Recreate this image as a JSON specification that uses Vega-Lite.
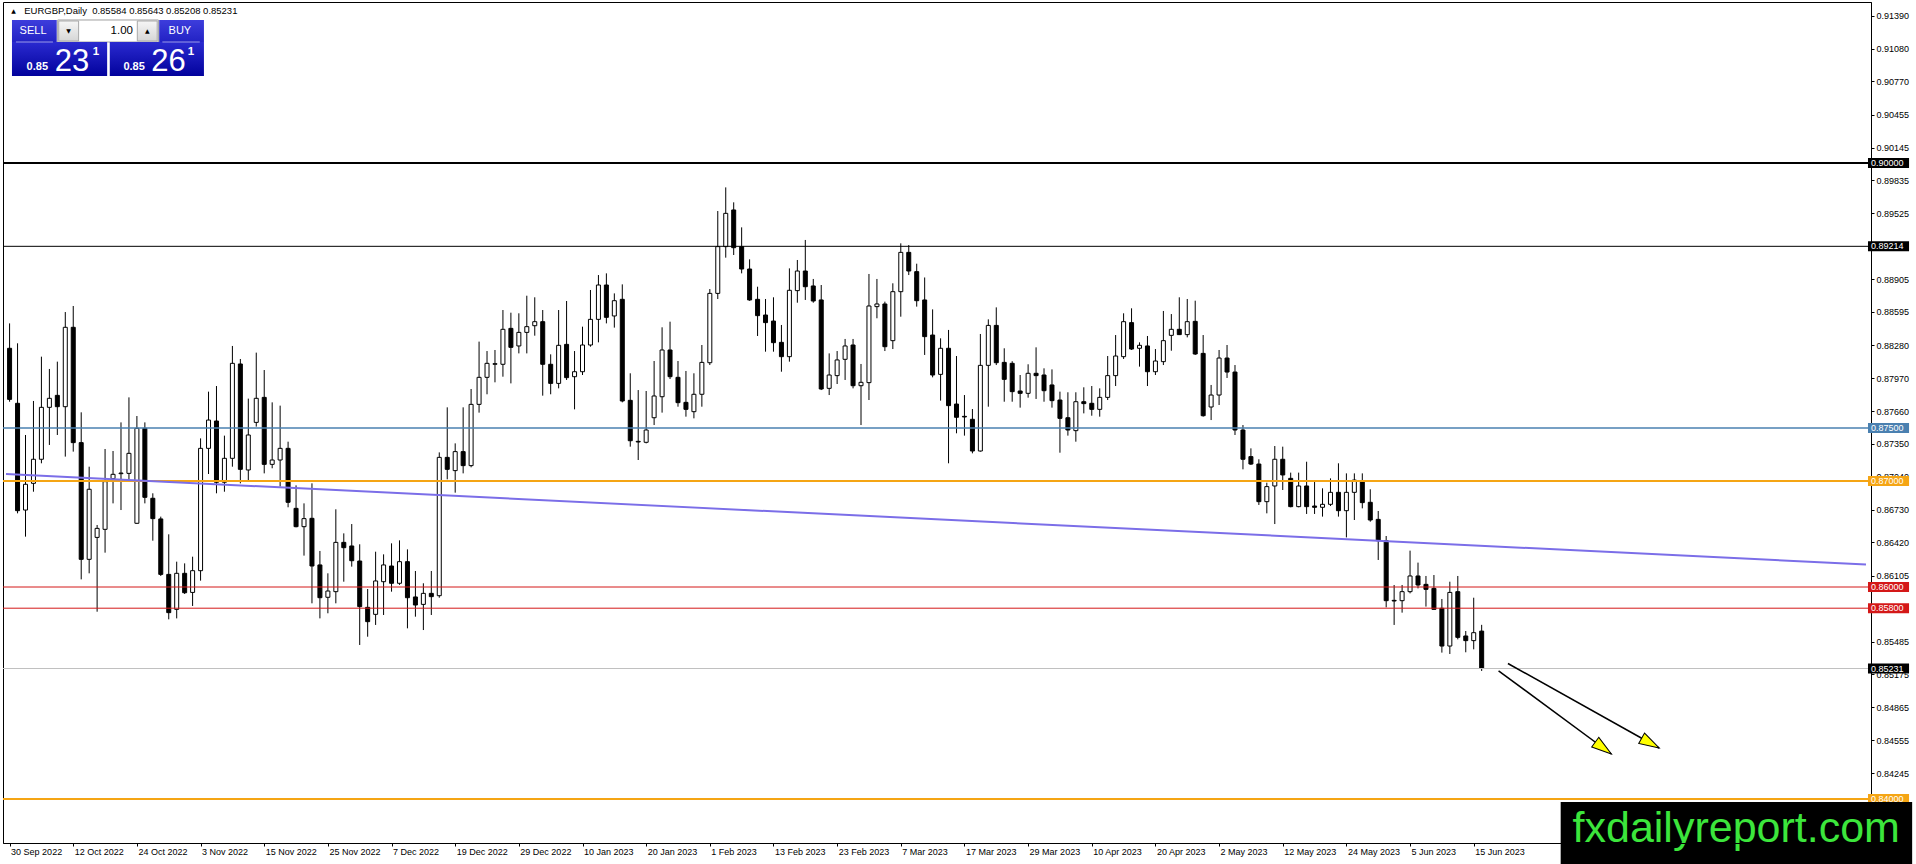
{
"$schema":"https://vega.github.io/schema/vega-lite/v6.json",
"width":1868,"height":841,
"padding":{"left":2,"top":2,"right":0,"bottom":0},
"autosize":{"type":"pad"},
"background":"white",
"config":{"view":{"stroke":"black","strokeWidth":1},"axis":{"grid":false}},
"resolve":{"axis":{"x":"independent","y":"independent"}},
"datasets":{
"candles":[
{"i":0,"o":0.88252,"h":0.88487,"l":0.87748,"c":0.8777},
{"i":1,"o":0.87733,"h":0.88299,"l":0.86695,"c":0.8672},
{"i":2,"o":0.86726,"h":0.87434,"l":0.86475,"c":0.86969},
{"i":3,"o":0.86978,"h":0.87755,"l":0.86899,"c":0.87205},
{"i":4,"o":0.87205,"h":0.88173,"l":0.87167,"c":0.87695},
{"i":5,"o":0.87695,"h":0.88057,"l":0.8734,"c":0.8778},
{"i":6,"o":0.87808,"h":0.88126,"l":0.87434,"c":0.87701},
{"i":7,"o":0.87701,"h":0.88594,"l":0.8723,"c":0.8845},
{"i":8,"o":0.8845,"h":0.88651,"l":0.87277,"c":0.87362},
{"i":9,"o":0.87362,"h":0.87648,"l":0.86072,"c":0.86261},
{"i":10,"o":0.86261,"h":0.87135,"l":0.86129,"c":0.86922},
{"i":11,"o":0.86468,"h":0.86585,"l":0.85767,"c":0.86553},
{"i":12,"o":0.86544,"h":0.87302,"l":0.86324,"c":0.86994},
{"i":13,"o":0.87022,"h":0.87283,"l":0.86789,"c":0.87063},
{"i":14,"o":0.87069,"h":0.87553,"l":0.86726,"c":0.87075},
{"i":15,"o":0.87072,"h":0.87789,"l":0.87009,"c":0.87261},
{"i":16,"o":0.86601,"h":0.87613,"l":0.86595,"c":0.87497},
{"i":17,"o":0.87497,"h":0.87553,"l":0.86789,"c":0.86846},
{"i":18,"o":0.86837,"h":0.86884,"l":0.86437,"c":0.86645},
{"i":19,"o":0.86642,"h":0.86664,"l":0.86104,"c":0.86119},
{"i":20,"o":0.86119,"h":0.86497,"l":0.85695,"c":0.85758},
{"i":21,"o":0.85789,"h":0.86239,"l":0.85704,"c":0.86129},
{"i":22,"o":0.86129,"h":0.86223,"l":0.85934,"c":0.85946},
{"i":23,"o":0.85949,"h":0.86286,"l":0.85821,"c":0.86154},
{"i":24,"o":0.86154,"h":0.87402,"l":0.8606,"c":0.87308},
{"i":25,"o":0.87308,"h":0.87843,"l":0.87066,"c":0.87575},
{"i":26,"o":0.87566,"h":0.87896,"l":0.86884,"c":0.86988},
{"i":27,"o":0.86988,"h":0.87428,"l":0.86899,"c":0.87214},
{"i":28,"o":0.87214,"h":0.88274,"l":0.87135,"c":0.8811},
{"i":29,"o":0.88104,"h":0.88151,"l":0.86978,"c":0.8711},
{"i":30,"o":0.87104,"h":0.87777,"l":0.87009,"c":0.87434},
{"i":31,"o":0.87553,"h":0.88211,"l":0.87513,"c":0.8778},
{"i":32,"o":0.87789,"h":0.88047,"l":0.87072,"c":0.87157},
{"i":33,"o":0.87157,"h":0.87742,"l":0.8712,"c":0.87198},
{"i":34,"o":0.87198,"h":0.87711,"l":0.86947,"c":0.87308},
{"i":35,"o":0.87308,"h":0.87371,"l":0.86752,"c":0.86799},
{"i":36,"o":0.86742,"h":0.86959,"l":0.86563,"c":0.86569},
{"i":37,"o":0.86569,"h":0.86789,"l":0.86296,"c":0.86645},
{"i":38,"o":0.86648,"h":0.86978,"l":0.85846,"c":0.86198},
{"i":39,"o":0.86208,"h":0.8634,"l":0.85704,"c":0.85899},
{"i":40,"o":0.85903,"h":0.86129,"l":0.85752,"c":0.85962},
{"i":41,"o":0.85956,"h":0.86733,"l":0.85846,"c":0.86421},
{"i":42,"o":0.86421,"h":0.86506,"l":0.8605,"c":0.86371},
{"i":43,"o":0.86387,"h":0.86594,"l":0.86192,"c":0.86248},
{"i":44,"o":0.86245,"h":0.86403,"l":0.85453,"c":0.85815},
{"i":45,"o":0.85808,"h":0.85981,"l":0.85531,"c":0.85673},
{"i":46,"o":0.85742,"h":0.86333,"l":0.85642,"c":0.86057},
{"i":47,"o":0.8605,"h":0.86308,"l":0.85736,"c":0.86208},
{"i":48,"o":0.86198,"h":0.86412,"l":0.85956,"c":0.86035},
{"i":49,"o":0.86035,"h":0.8644,"l":0.8602,"c":0.86239},
{"i":50,"o":0.86239,"h":0.86355,"l":0.8561,"c":0.85899},
{"i":51,"o":0.85906,"h":0.86151,"l":0.8572,"c":0.8583},
{"i":52,"o":0.85836,"h":0.86035,"l":0.85594,"c":0.8594},
{"i":53,"o":0.8594,"h":0.86151,"l":0.85736,"c":0.85909},
{"i":54,"o":0.85918,"h":0.8727,"l":0.85899,"c":0.87223},
{"i":55,"o":0.87223,"h":0.87695,"l":0.87016,"c":0.8711},
{"i":56,"o":0.87098,"h":0.87355,"l":0.8689,"c":0.87277},
{"i":57,"o":0.87277,"h":0.87695,"l":0.87072,"c":0.87145},
{"i":58,"o":0.87145,"h":0.87868,"l":0.87129,"c":0.87723},
{"i":59,"o":0.87723,"h":0.88315,"l":0.87645,"c":0.87978},
{"i":60,"o":0.87978,"h":0.88226,"l":0.87818,"c":0.8811},
{"i":61,"o":0.88101,"h":0.88236,"l":0.87931,"c":0.88107},
{"i":62,"o":0.88101,"h":0.88613,"l":0.87984,"c":0.88431},
{"i":63,"o":0.8844,"h":0.88588,"l":0.87921,"c":0.88261},
{"i":64,"o":0.88274,"h":0.88582,"l":0.88204,"c":0.88402},
{"i":65,"o":0.88402,"h":0.88748,"l":0.88204,"c":0.88456},
{"i":66,"o":0.88465,"h":0.88733,"l":0.88371,"c":0.88503},
{"i":67,"o":0.88503,"h":0.88613,"l":0.87805,"c":0.88101},
{"i":68,"o":0.88101,"h":0.88195,"l":0.87818,"c":0.87921},
{"i":69,"o":0.87921,"h":0.88613,"l":0.87874,"c":0.8828},
{"i":70,"o":0.88289,"h":0.88698,"l":0.87953,"c":0.87975},
{"i":71,"o":0.87984,"h":0.88226,"l":0.87676,"c":0.88031},
{"i":72,"o":0.88031,"h":0.88456,"l":0.88,"c":0.88283},
{"i":73,"o":0.88283,"h":0.88802,"l":0.88267,"c":0.88525},
{"i":74,"o":0.88525,"h":0.88943,"l":0.88308,"c":0.88849},
{"i":75,"o":0.88849,"h":0.88959,"l":0.88487,"c":0.88544},
{"i":76,"o":0.88557,"h":0.8877,"l":0.88447,"c":0.88701},
{"i":77,"o":0.88714,"h":0.88855,"l":0.87742,"c":0.87755},
{"i":78,"o":0.87761,"h":0.88016,"l":0.87324,"c":0.8738},
{"i":79,"o":0.87374,"h":0.87858,"l":0.87198,"c":0.87368},
{"i":80,"o":0.87365,"h":0.87849,"l":0.87355,"c":0.87481},
{"i":81,"o":0.87597,"h":0.88132,"l":0.87528,"c":0.87802},
{"i":82,"o":0.87795,"h":0.8845,"l":0.87645,"c":0.88236},
{"i":83,"o":0.88236,"h":0.88503,"l":0.87962,"c":0.87984},
{"i":84,"o":0.87978,"h":0.88132,"l":0.87701,"c":0.87739},
{"i":85,"o":0.87742,"h":0.88038,"l":0.87607,"c":0.87676},
{"i":86,"o":0.87654,"h":0.88016,"l":0.87591,"c":0.87818},
{"i":87,"o":0.87818,"h":0.88283,"l":0.87701,"c":0.88119},
{"i":88,"o":0.88116,"h":0.88811,"l":0.88094,"c":0.8877},
{"i":89,"o":0.8877,"h":0.89547,"l":0.88717,"c":0.89211},
{"i":90,"o":0.89211,"h":0.8977,"l":0.89107,"c":0.89525},
{"i":91,"o":0.89557,"h":0.89629,"l":0.89132,"c":0.89201},
{"i":92,"o":0.89211,"h":0.89393,"l":0.88959,"c":0.89},
{"i":93,"o":0.89,"h":0.89091,"l":0.887,"c":0.88708},
{"i":94,"o":0.88714,"h":0.88833,"l":0.88368,"c":0.8856},
{"i":95,"o":0.88566,"h":0.88717,"l":0.8822,"c":0.88494},
{"i":96,"o":0.88509,"h":0.88733,"l":0.8822,"c":0.88305},
{"i":97,"o":0.88308,"h":0.88472,"l":0.88031,"c":0.88173},
{"i":98,"o":0.88173,"h":0.89006,"l":0.88126,"c":0.88799},
{"i":99,"o":0.88796,"h":0.89085,"l":0.88682,"c":0.88981},
{"i":100,"o":0.88981,"h":0.89274,"l":0.88708,"c":0.88833},
{"i":101,"o":0.8884,"h":0.88906,"l":0.88682,"c":0.88698},
{"i":102,"o":0.88708,"h":0.88849,"l":0.87858,"c":0.87868},
{"i":103,"o":0.87874,"h":0.88204,"l":0.87811,"c":0.88},
{"i":104,"o":0.87994,"h":0.88226,"l":0.87915,"c":0.88142},
{"i":105,"o":0.88148,"h":0.8834,"l":0.87953,"c":0.88274},
{"i":106,"o":0.88283,"h":0.8834,"l":0.87874,"c":0.87899},
{"i":107,"o":0.87899,"h":0.88104,"l":0.87528,"c":0.87931},
{"i":108,"o":0.87928,"h":0.88953,"l":0.87764,"c":0.88651},
{"i":109,"o":0.88645,"h":0.88906,"l":0.88535,"c":0.8867},
{"i":110,"o":0.8867,"h":0.88692,"l":0.88226,"c":0.88267},
{"i":111,"o":0.88324,"h":0.88865,"l":0.88245,"c":0.88786},
{"i":112,"o":0.88786,"h":0.89242,"l":0.8855,"c":0.89157},
{"i":113,"o":0.89157,"h":0.89226,"l":0.88943,"c":0.88981},
{"i":114,"o":0.88975,"h":0.8905,"l":0.88645,"c":0.88701},
{"i":115,"o":0.88708,"h":0.8892,"l":0.88189,"c":0.88362},
{"i":116,"o":0.88377,"h":0.88619,"l":0.87978,"c":0.88},
{"i":117,"o":0.88006,"h":0.88346,"l":0.87758,"c":0.88252},
{"i":118,"o":0.88252,"h":0.88425,"l":0.87167,"c":0.87711},
{"i":119,"o":0.87726,"h":0.88179,"l":0.8745,"c":0.87601},
{"i":120,"o":0.8761,"h":0.87811,"l":0.87428,"c":0.87604},
{"i":121,"o":0.87582,"h":0.87679,"l":0.87261,"c":0.87283},
{"i":122,"o":0.87283,"h":0.88387,"l":0.87277,"c":0.88091},
{"i":123,"o":0.88091,"h":0.88525,"l":0.87701,"c":0.88468},
{"i":124,"o":0.88468,"h":0.88638,"l":0.88094,"c":0.88116},
{"i":125,"o":0.88119,"h":0.88252,"l":0.87748,"c":0.87959},
{"i":126,"o":0.8811,"h":0.8813,"l":0.87748,"c":0.87843},
{"i":127,"o":0.87849,"h":0.88,"l":0.87692,"c":0.87827},
{"i":128,"o":0.87827,"h":0.88101,"l":0.87786,"c":0.88016},
{"i":129,"o":0.88016,"h":0.88261,"l":0.87774,"c":0.87994},
{"i":130,"o":0.88,"h":0.88063,"l":0.87748,"c":0.87852},
{"i":131,"o":0.87906,"h":0.88053,"l":0.87692,"c":0.87758},
{"i":132,"o":0.87764,"h":0.87843,"l":0.87267,"c":0.87591},
{"i":133,"o":0.87597,"h":0.87837,"l":0.87428,"c":0.87481},
{"i":134,"o":0.87475,"h":0.87837,"l":0.87371,"c":0.87748},
{"i":135,"o":0.87748,"h":0.87884,"l":0.87638,"c":0.8773},
{"i":136,"o":0.87733,"h":0.87896,"l":0.87616,"c":0.87676},
{"i":137,"o":0.87676,"h":0.87874,"l":0.87607,"c":0.87789},
{"i":138,"o":0.87789,"h":0.88179,"l":0.87764,"c":0.87994},
{"i":139,"o":0.87994,"h":0.88377,"l":0.87896,"c":0.88179},
{"i":140,"o":0.88173,"h":0.88582,"l":0.88151,"c":0.88503},
{"i":141,"o":0.88494,"h":0.88629,"l":0.88236,"c":0.88245},
{"i":142,"o":0.88252,"h":0.88308,"l":0.88079,"c":0.8828},
{"i":143,"o":0.88274,"h":0.88368,"l":0.87896,"c":0.88031},
{"i":144,"o":0.88031,"h":0.88245,"l":0.88,"c":0.88132},
{"i":145,"o":0.88126,"h":0.88604,"l":0.88094,"c":0.88324},
{"i":146,"o":0.88374,"h":0.88575,"l":0.88229,"c":0.88431},
{"i":147,"o":0.88431,"h":0.88733,"l":0.88377,"c":0.88381},
{"i":148,"o":0.88381,"h":0.88717,"l":0.88355,"c":0.88503},
{"i":149,"o":0.88506,"h":0.88701,"l":0.88189,"c":0.88198},
{"i":150,"o":0.88204,"h":0.88377,"l":0.87607,"c":0.87616},
{"i":151,"o":0.87698,"h":0.87906,"l":0.87575,"c":0.87811},
{"i":152,"o":0.87811,"h":0.88236,"l":0.87717,"c":0.8816},
{"i":153,"o":0.8816,"h":0.88283,"l":0.87972,"c":0.88028},
{"i":154,"o":0.88028,"h":0.88094,"l":0.87434,"c":0.87481},
{"i":155,"o":0.87481,"h":0.87528,"l":0.8711,"c":0.87205},
{"i":156,"o":0.8723,"h":0.87308,"l":0.87151,"c":0.8716},
{"i":157,"o":0.8716,"h":0.87205,"l":0.86774,"c":0.86805},
{"i":158,"o":0.86805,"h":0.86984,"l":0.86695,"c":0.86947},
{"i":159,"o":0.86953,"h":0.8733,"l":0.86594,"c":0.87205},
{"i":160,"o":0.87205,"h":0.87324,"l":0.86915,"c":0.87057},
{"i":161,"o":0.87025,"h":0.87079,"l":0.86752,"c":0.86758},
{"i":162,"o":0.86758,"h":0.87079,"l":0.86752,"c":0.86953},
{"i":163,"o":0.86953,"h":0.87182,"l":0.86689,"c":0.86758},
{"i":164,"o":0.86764,"h":0.86994,"l":0.86689,"c":0.86752},
{"i":165,"o":0.86752,"h":0.86931,"l":0.86664,"c":0.8678},
{"i":166,"o":0.8678,"h":0.87025,"l":0.86764,"c":0.86893},
{"i":167,"o":0.86893,"h":0.87167,"l":0.86664,"c":0.8672},
{"i":168,"o":0.8672,"h":0.87072,"l":0.86468,"c":0.86893},
{"i":169,"o":0.86893,"h":0.87072,"l":0.86632,"c":0.87009},
{"i":170,"o":0.86994,"h":0.87072,"l":0.86742,"c":0.86796},
{"i":171,"o":0.86799,"h":0.86922,"l":0.86616,"c":0.86632},
{"i":172,"o":0.86638,"h":0.86717,"l":0.86255,"c":0.86437},
{"i":173,"o":0.86437,"h":0.86481,"l":0.85808,"c":0.85871},
{"i":174,"o":0.85874,"h":0.86019,"l":0.85642,"c":0.85868},
{"i":175,"o":0.85871,"h":0.86019,"l":0.85758,"c":0.85956},
{"i":176,"o":0.85956,"h":0.86343,"l":0.8594,"c":0.86104},
{"i":177,"o":0.86104,"h":0.8623,"l":0.85987,"c":0.86019},
{"i":178,"o":0.86025,"h":0.86104,"l":0.85815,"c":0.85978},
{"i":179,"o":0.85987,"h":0.86113,"l":0.85785,"c":0.85789},
{"i":180,"o":0.85799,"h":0.85887,"l":0.85381,"c":0.85443},
{"i":181,"o":0.85443,"h":0.8605,"l":0.85368,"c":0.85949},
{"i":182,"o":0.85956,"h":0.86104,"l":0.85506,"c":0.85525},
{"i":183,"o":0.85538,"h":0.85585,"l":0.85384,"c":0.85494},
{"i":184,"o":0.85494,"h":0.85899,"l":0.85412,"c":0.85569},
{"i":185,"o":0.85584,"h":0.85643,"l":0.85208,"c":0.85231}
],
"levels":[
{"p":0.9,"k":"r1"},{"p":0.89214,"k":"r2"},{"p":0.875,"k":"mid"},{"p":0.87,"k":"s1"},
{"p":0.86,"k":"s2"},{"p":0.858,"k":"s3"},{"p":0.85231,"k":"bid"},{"p":0.84,"k":"s4"}
],
"trend":[{"i":-0.45,"p":0.87066},{"i":233.3,"p":0.862123}]
},
"layer":[
{"data":{"name":"candles"},"mark":{"type":"rule","color":"black","strokeWidth":1,"clip":true},
 "encoding":{
  "x":{"field":"i","type":"quantitative","scale":{"domain":[-0.2,233.3],"nice":false,"zero":false},
   "axis":{"title":null,"zindex":1,"values":[0,8,16,24,32,40,48,56,64,72,80,88,96,104,112,120,128,136,144,152,160,168,176,184],
    "labelExpr":"['30 Sep 2022','12 Oct 2022','24 Oct 2022','3 Nov 2022','15 Nov 2022','25 Nov 2022','7 Dec 2022','19 Dec 2022','29 Dec 2022','10 Jan 2023','20 Jan 2023','1 Feb 2023','13 Feb 2023','23 Feb 2023','7 Mar 2023','17 Mar 2023','29 Mar 2023','10 Apr 2023','20 Apr 2023','2 May 2023','12 May 2023','24 May 2023','5 Jun 2023','15 Jun 2023'][round(datum.value/8)]",
    "labelAlign":"left","labelOffset":1,"labelPadding":1,"tickSize":3,"tickColor":"black","domainColor":"black",
    "labelFont":"Liberation Sans","labelFontSize":9,"labelColor":"black","labelFlush":false,"labelOverlap":false,"grid":false}},
  "y":{"field":"l","type":"quantitative","scale":{"domain":[0.835849,0.915189],"nice":false,"zero":false},
   "axis":{"title":null,"zindex":0,"orient":"right","values":[0.9139,0.9108,0.9077,0.90455,0.90145,0.89835,0.89525,0.88905,0.88595,0.8828,0.8797,0.8766,0.8735,0.8704,0.8673,0.8642,0.86105,0.85485,0.85175,0.84865,0.84555,0.84245],
    "format":".5f","tickSize":3,"tickColor":"black","domainColor":"black","labelPadding":2,
    "labelFont":"Liberation Sans","labelFontSize":9,"labelColor":"black","labelFlush":false,"labelOverlap":false,"grid":false}},
  "y2":{"field":"h"}}},
{"data":{"name":"candles"},"mark":{"type":"bar","size":4,"stroke":"black","strokeWidth":1,"clip":true},
 "encoding":{
  "x":{"field":"i","type":"quantitative","axis":null},
  "y":{"field":"o","type":"quantitative","axis":null},
  "y2":{"field":"c"},
  "fill":{"condition":{"test":"datum.c < datum.o","value":"black"},"value":"white"}}},
{"data":{"name":"levels"},"mark":{"type":"rule"},
 "encoding":{
  "y":{"field":"p","type":"quantitative","axis":null},
  "stroke":{"field":"k","type":"nominal","legend":null,"scale":{"domain":["r1","r2","mid","s1","s2","s3","bid","s4"],"range":["#000000","#000000","#4a80b0","#f5a514","#d41818","#d41818","#c0c0c0","#f5a514"]}},
  "strokeWidth":{"condition":[{"test":"datum.k==='r1'||datum.k==='s1'||datum.k==='s4'","value":2},{"test":"datum.k==='mid'","value":1.5}],"value":1}}},
{"data":{"name":"trend"},"mark":{"type":"line","stroke":"#7b6ee8","strokeWidth":2,"clip":true},
 "encoding":{
  "x":{"field":"i","type":"quantitative","axis":null},
  "y":{"field":"p","type":"quantitative","axis":null}}},
{"data":{"values":[{}]},"mark":{"type":"rule","stroke":"black","strokeWidth":1.5},
 "encoding":{"x":{"datum":187.125,"type":"quantitative","axis":null},"y":{"datum":0.852094,"type":"quantitative","axis":null},"x2":{"datum":201.3},"y2":{"datum":0.844245}}},
{"data":{"values":[{}]},"mark":{"type":"rule","stroke":"black","strokeWidth":1.5},
 "encoding":{"x":{"datum":188.3,"type":"quantitative","axis":null},"y":{"datum":0.852783,"type":"quantitative","axis":null},"x2":{"datum":207.3},"y2":{"datum":0.844811}}},
{"data":{"values":[{}]},"mark":{"type":"point","shape":"M0,0L0.6,2L-0.6,2Z","filled":true,"fill":"#ffff00","stroke":"black","strokeWidth":1,"size":400,"angle":126.3,"opacity":1},
 "encoding":{"x":{"datum":201.3,"type":"quantitative","axis":null},"y":{"datum":0.844245,"type":"quantitative","axis":null}}},
{"data":{"values":[{}]},"mark":{"type":"point","shape":"M0,0L0.6,2L-0.6,2Z","filled":true,"fill":"#ffff00","stroke":"black","strokeWidth":1,"size":400,"angle":119.1,"opacity":1},
 "encoding":{"x":{"datum":207.3,"type":"quantitative","axis":null},"y":{"datum":0.844811,"type":"quantitative","axis":null}}},
{"data":{"values":[{}]},"mark":{"type":"text","text":"▲","font":"DejaVu Sans","fontSize":6,"fill":"black","align":"center","baseline":"middle"},
 "encoding":{"x":{"datum":0.5,"type":"quantitative","axis":null},"y":{"datum":0.91434,"type":"quantitative","axis":null}}},
{"data":{"values":[{}]},"mark":{"type":"text","text":"EURGBP,Daily\u00a0 0.85584 0.85643 0.85208 0.85231","font":"Liberation Sans","fontSize":9.5,"fill":"black","align":"left","baseline":"middle"},
 "encoding":{"x":{"datum":1.84,"type":"quantitative","axis":null},"y":{"datum":0.91434,"type":"quantitative","axis":null}}},
{"data":{"values":[{}]},"mark":{"type":"rect","fill":{"gradient":"linear","x1":0,"y1":0,"x2":0,"y2":1,"stops":[{"offset":0,"color":"#3d3ddc"},{"offset":1,"color":"#2222c4"}]}},
 "encoding":{"x":{"datum":0.3,"type":"quantitative","axis":null},"x2":{"datum":5.925},"y":{"datum":0.913491,"type":"quantitative","axis":null},"y2":{"datum":0.911415}}},
{"data":{"values":[{}]},"mark":{"type":"rect","fill":{"gradient":"linear","x1":0,"y1":0,"x2":0,"y2":1,"stops":[{"offset":0,"color":"#3d3ddc"},{"offset":1,"color":"#2222c4"}]}},
 "encoding":{"x":{"datum":18.8,"type":"quantitative","axis":null},"x2":{"datum":24.425},"y":{"datum":0.913491,"type":"quantitative","axis":null},"y2":{"datum":0.911415}}},
{"data":{"values":[{}]},"mark":{"type":"rect","fill":"white","stroke":"#a0a0a0","strokeWidth":1},
 "encoding":{"x":{"datum":6.05,"type":"quantitative","axis":null},"x2":{"datum":18.7},"y":{"datum":0.913491,"type":"quantitative","axis":null},"y2":{"datum":0.911415}}},
{"data":{"values":[{}]},"mark":{"type":"rect","stroke":"#a8a8a8","strokeWidth":1,"fill":{"gradient":"linear","x1":0,"y1":0,"x2":0,"y2":1,"stops":[{"offset":0,"color":"#f6f6f6"},{"offset":1,"color":"#d6d6d6"}]}},
 "encoding":{"x":{"datum":6.175,"type":"quantitative","axis":null},"x2":{"datum":8.675},"y":{"datum":0.913397,"type":"quantitative","axis":null},"y2":{"datum":0.911509}}},
{"data":{"values":[{}]},"mark":{"type":"rect","stroke":"#a8a8a8","strokeWidth":1,"fill":{"gradient":"linear","x1":0,"y1":0,"x2":0,"y2":1,"stops":[{"offset":0,"color":"#f6f6f6"},{"offset":1,"color":"#d6d6d6"}]}},
 "encoding":{"x":{"datum":16.05,"type":"quantitative","axis":null},"x2":{"datum":18.55},"y":{"datum":0.913397,"type":"quantitative","axis":null},"y2":{"datum":0.911509}}},
{"data":{"values":[{}]},"mark":{"type":"rect","fill":{"gradient":"linear","x1":0,"y1":0,"x2":0,"y2":1,"stops":[{"offset":0,"color":"#2a2ad0"},{"offset":1,"color":"#02029c"}]}},
 "encoding":{"x":{"datum":0.3,"type":"quantitative","axis":null},"x2":{"datum":12.26},"y":{"datum":0.911415,"type":"quantitative","axis":null},"y2":{"datum":0.908208}}},
{"data":{"values":[{}]},"mark":{"type":"rect","fill":{"gradient":"linear","x1":0,"y1":0,"x2":0,"y2":1,"stops":[{"offset":0,"color":"#2a2ad0"},{"offset":1,"color":"#02029c"}]}},
 "encoding":{"x":{"datum":12.59,"type":"quantitative","axis":null},"x2":{"datum":24.425},"y":{"datum":0.911415,"type":"quantitative","axis":null},"y2":{"datum":0.908208}}},
{"data":{"values":[{}]},"mark":{"type":"rule","stroke":"#9a9ae8","strokeWidth":1},
 "encoding":{"x":{"datum":0.8,"type":"quantitative","axis":null},"x2":{"datum":5.45},"y":{"datum":0.911415,"type":"quantitative","axis":null}}},
{"data":{"values":[{}]},"mark":{"type":"rule","stroke":"#9a9ae8","strokeWidth":1},
 "encoding":{"x":{"datum":19.2,"type":"quantitative","axis":null},"x2":{"datum":23.9},"y":{"datum":0.911415,"type":"quantitative","axis":null}}},
{"data":{"values":[{}]},"mark":{"type":"text","text":"SELL","font":"Liberation Sans","fontSize":11,"fill":"white","align":"center","baseline":"middle"},
 "encoding":{"x":{"datum":2.95,"type":"quantitative","axis":null},"y":{"datum":0.912453,"type":"quantitative","axis":null}}},
{"data":{"values":[{}]},"mark":{"type":"text","text":"BUY","font":"Liberation Sans","fontSize":11,"fill":"white","align":"center","baseline":"middle"},
 "encoding":{"x":{"datum":21.4,"type":"quantitative","axis":null},"y":{"datum":0.912453,"type":"quantitative","axis":null}}},
{"data":{"values":[{}]},"mark":{"type":"text","text":"1.00","font":"Liberation Sans","fontSize":11.5,"fill":"black","align":"right","baseline":"middle"},
 "encoding":{"x":{"datum":15.51,"type":"quantitative","axis":null},"y":{"datum":0.912453,"type":"quantitative","axis":null}}},
{"data":{"values":[{}]},"mark":{"type":"text","text":"▼","font":"DejaVu Sans","fontSize":6,"fill":"black","align":"center","baseline":"middle"},
 "encoding":{"x":{"datum":7.425,"type":"quantitative","axis":null},"y":{"datum":0.912453,"type":"quantitative","axis":null}}},
{"data":{"values":[{}]},"mark":{"type":"text","text":"▲","font":"DejaVu Sans","fontSize":6,"fill":"black","align":"center","baseline":"middle"},
 "encoding":{"x":{"datum":17.3,"type":"quantitative","axis":null},"y":{"datum":0.912453,"type":"quantitative","axis":null}}},
{"data":{"values":[{}]},"mark":{"type":"text","text":"0.85","font":"Liberation Sans","fontSize":11,"fontWeight":"bold","fill":"white","align":"left","baseline":"alphabetic"},
 "encoding":{"x":{"datum":2.14,"type":"quantitative","axis":null},"y":{"datum":0.908774,"type":"quantitative","axis":null}}},
{"data":{"values":[{}]},"mark":{"type":"text","text":"23","font":"Liberation Sans","fontSize":31,"fill":"white","align":"left","baseline":"alphabetic"},
 "encoding":{"x":{"datum":5.675,"type":"quantitative","axis":null},"y":{"datum":0.908726,"type":"quantitative","axis":null}}},
{"data":{"values":[{}]},"mark":{"type":"text","text":"1","font":"Liberation Sans","fontSize":11.5,"fontWeight":"bold","fill":"white","align":"left","baseline":"alphabetic"},
 "encoding":{"x":{"datum":10.45,"type":"quantitative","axis":null},"y":{"datum":0.910189,"type":"quantitative","axis":null}}},
{"data":{"values":[{}]},"mark":{"type":"text","text":"0.85","font":"Liberation Sans","fontSize":11,"fontWeight":"bold","fill":"white","align":"left","baseline":"alphabetic"},
 "encoding":{"x":{"datum":14.3,"type":"quantitative","axis":null},"y":{"datum":0.908774,"type":"quantitative","axis":null}}},
{"data":{"values":[{}]},"mark":{"type":"text","text":"26","font":"Liberation Sans","fontSize":31,"fill":"white","align":"left","baseline":"alphabetic"},
 "encoding":{"x":{"datum":17.8,"type":"quantitative","axis":null},"y":{"datum":0.908726,"type":"quantitative","axis":null}}},
{"data":{"values":[{}]},"mark":{"type":"text","text":"1","font":"Liberation Sans","fontSize":11.5,"fontWeight":"bold","fill":"white","align":"left","baseline":"alphabetic"},
 "encoding":{"x":{"datum":22.39,"type":"quantitative","axis":null},"y":{"datum":0.910189,"type":"quantitative","axis":null}}},
{"data":{"name":"levels"},"mark":{"type":"rule","strokeWidth":10,"strokeCap":"butt"},
 "encoding":{
  "x":{"datum":233.55,"type":"quantitative","axis":null},"x2":{"datum":238.71},
  "y":{"field":"p","type":"quantitative","axis":null},
  "stroke":{"condition":{"test":"datum.k==='bid'","value":"#000000"},"field":"k","type":"nominal","legend":null}}},
{"data":{"name":"levels"},"mark":{"type":"text","font":"Liberation Sans","fontSize":9,"fill":"white","align":"left","baseline":"middle"},
 "encoding":{
  "x":{"datum":233.93,"type":"quantitative","axis":null},
  "y":{"field":"p","type":"quantitative","axis":null},
  "text":{"field":"p","type":"quantitative","format":".5f"}}},
{"data":{"values":[{}]},"mark":{"type":"rect","fill":"black"},
 "encoding":{"x":{"datum":194.93,"type":"quantitative","axis":null},"x2":{"datum":239.1},"y":{"datum":0.839717,"type":"quantitative","axis":null},"y2":{"datum":0.833868}}},
{"data":{"values":[{}]},"mark":{"type":"text","text":"fxdailyreport.com","font":"Liberation Sans","fontSize":43,"fill":"#3ce63c","align":"center","baseline":"alphabetic"},
 "encoding":{"x":{"datum":216.99,"type":"quantitative","axis":null},"y":{"datum":0.835943,"type":"quantitative","axis":null}}}
]
}
